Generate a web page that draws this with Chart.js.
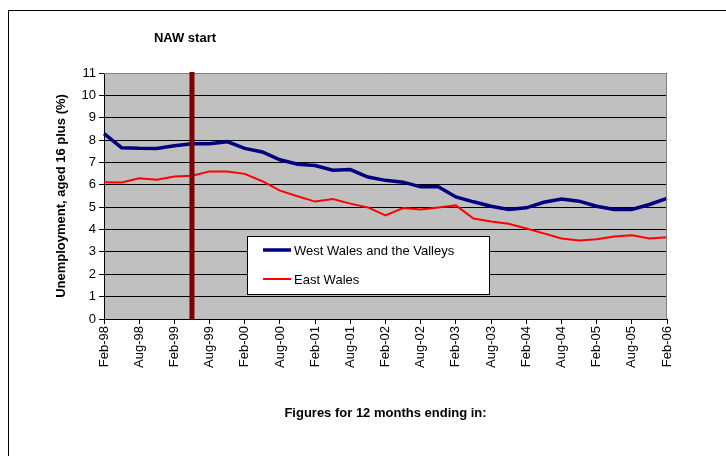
<!DOCTYPE html>
<html>
<head>
<meta charset="utf-8">
<script src="https://cdn.jsdelivr.net/npm/chart.js"></script>
<style>
  html, body { margin: 0; padding: 0; background: #fff; overflow: hidden; }
  #wrap { position: relative; width: 726px; height: 456px; }
  #border { position: absolute; left: 8px; top: 10px; width: 800px; height: 500px;
            border-left: 1px solid #000; border-top: 1px solid #000; }
  canvas { position: absolute; left: 0; top: 0; }
</style>
</head>
<body>
<div id="wrap">
  <div id="border"></div>
  <canvas id="myChart" width="726" height="456"></canvas>
</div>
<script>
// quarterly, 12 months ending in...
const quarters = ['Feb-98', 'May-98', 'Aug-98', 'Nov-98', 'Feb-99', 'May-99', 'Aug-99', 'Nov-99',
    'Feb-00', 'May-00', 'Aug-00', 'Nov-00', 'Feb-01', 'May-01', 'Aug-01', 'Nov-01',
    'Feb-02', 'May-02', 'Aug-02', 'Nov-02', 'Feb-03', 'May-03', 'Aug-03', 'Nov-03',
    'Feb-04', 'May-04', 'Aug-04', 'Nov-04', 'Feb-05', 'May-05', 'Aug-05', 'Nov-05', 'Feb-06'];

const westWales = [8.29, 7.66, 7.63, 7.62, 7.75, 7.84, 7.84, 7.93, 7.63, 7.47, 7.12, 6.92, 6.86,
    6.65, 6.68, 6.35, 6.2, 6.12, 5.91, 5.91, 5.46, 5.24, 5.04, 4.9, 4.97, 5.22, 5.36, 5.27, 5.04,
    4.9, 4.9, 5.12, 5.39];
const eastWales = [6.12, 6.1, 6.29, 6.23, 6.37, 6.41, 6.6, 6.6, 6.49, 6.16, 5.74, 5.49, 5.25,
    5.36, 5.16, 4.99, 4.63, 4.96, 4.9, 4.99, 5.08, 4.49, 4.36, 4.26, 4.05, 3.83, 3.6, 3.51, 3.57,
    3.69, 3.74, 3.6, 3.65];

const yTicks = [0, 1, 2, 3, 4, 5, 6, 7, 8, 9, 10, 11];
const nawStart = 'May-99';

const FONT = "'Liberation Sans', Arial, sans-serif";

// plot background, frame, NAW line and the legend box inside the plot
const decorations = {
    id: 'decorations',
    beforeDraw(chart) {
        const { ctx, chartArea: a } = chart;
        ctx.save();
        ctx.fillStyle = '#c0c0c0';
        ctx.fillRect(a.left, a.top, a.width, a.height);
        ctx.restore();
    },
    afterDatasetsDraw(chart) {
        const { ctx, chartArea: a } = chart;
        ctx.save();
        // gray top/right edges
        ctx.strokeStyle = '#808080';
        ctx.lineWidth = 1;
        ctx.beginPath();
        ctx.moveTo(a.left, a.top + 0.5);
        ctx.lineTo(a.right - 0.5, a.top + 0.5);
        ctx.lineTo(a.right - 0.5, a.bottom);
        ctx.stroke();

        // NAW start marker
        const x = chart.scales.x.getPixelForValue(quarters.indexOf(nawStart));
        ctx.strokeStyle = '#800000';
        ctx.lineWidth = 5;
        ctx.beginPath();
        ctx.moveTo(x, a.top - 1);
        ctx.lineTo(x, a.bottom);
        ctx.stroke();

        ctx.fillStyle = '#000';
        ctx.font = 'bold 13px ' + FONT;
        ctx.textAlign = 'center';
        ctx.textBaseline = 'middle';
        ctx.fillText('NAW start', x - 7, 38);

        // legend
        const bx = 247, by = 236, bw = 242, bh = 58;
        ctx.fillStyle = '#fff';
        ctx.fillRect(bx, by, bw, bh);
        ctx.strokeStyle = '#000';
        ctx.lineWidth = 1;
        ctx.strokeRect(bx + 0.5, by + 0.5, bw, bh);
        ctx.font = '13px ' + FONT;
        ctx.textAlign = 'left';
        chart.data.datasets.forEach((ds, i) => {
            const ly = by + 14 + i * 29;
            ctx.strokeStyle = ds.borderColor;
            ctx.lineWidth = ds.borderWidth;
            ctx.beginPath();
            ctx.moveTo(bx + 16, ly);
            ctx.lineTo(bx + 44, ly);
            ctx.stroke();
            ctx.fillStyle = '#000';
            ctx.fillText(ds.label, bx + 47, ly + 1);
        });
        ctx.restore();
    }
};

const ctx = document.getElementById('myChart').getContext('2d');
const myChart = new Chart(ctx, {
    type: 'line',
    data: {
        labels: quarters,
        datasets: [{
            label: 'West Wales and the Valleys',
            data: westWales,
            borderColor: '#000080',
            borderWidth: 3.5,
            pointRadius: 0,
            tension: 0
        }, {
            label: 'East Wales',
            data: eastWales,
            borderColor: '#ff0000',
            borderWidth: 2,
            pointRadius: 0,
            tension: 0
        }]
    },
    options: {
        responsive: false,
        animation: false,
        layout: { padding: { left: 54, top: 73, right: 59, bottom: 35 } },
        plugins: {
            legend: { display: false },
            tooltip: { enabled: false }
        },
        scales: {
            x: {
                offset: false,
                afterFit: s => { s.height = 102; },
                grid: {
                    drawOnChartArea: false,
                    tickLength: 5,
                    color: c => (c.index % 2 === 0 ? '#000' : 'rgba(0,0,0,0)')
                },
                border: { color: '#000' },
                ticks: {
                    autoSkip: false,
                    minRotation: 90,
                    maxRotation: 90,
                    padding: 2,
                    color: '#000',
                    font: { family: FONT, size: 13 },
                    callback: (v, i) => (i % 2 === 0 ? quarters[i] : '')
                },
                title: {
                    display: true,
                    text: 'Figures for 12 months ending in:',
                    color: '#000',
                    font: { family: FONT, size: 13, weight: 'bold' },
                    padding: { top: 0, bottom: 0 }
                }
            },
            y: {
                min: yTicks[0],
                max: yTicks[yTicks.length - 1],
                afterFit: s => { s.width = 50; },
                afterBuildTicks: s => { s.ticks = yTicks.map(v => ({ value: v })); },
                grid: {
                    tickLength: 5,
                    color: '#000'
                },
                border: { color: '#000' },
                ticks: {
                    padding: 3,
                    color: '#000',
                    font: { family: FONT, size: 13 }
                },
                title: {
                    display: true,
                    text: 'Unemployment, aged 16 plus (%)',
                    color: '#000',
                    font: { family: FONT, size: 13, weight: 'bold' },
                    padding: { top: 0, bottom: 0 }
                }
            }
        }
    },
    plugins: [decorations]
});
</script>
</body>
</html>
